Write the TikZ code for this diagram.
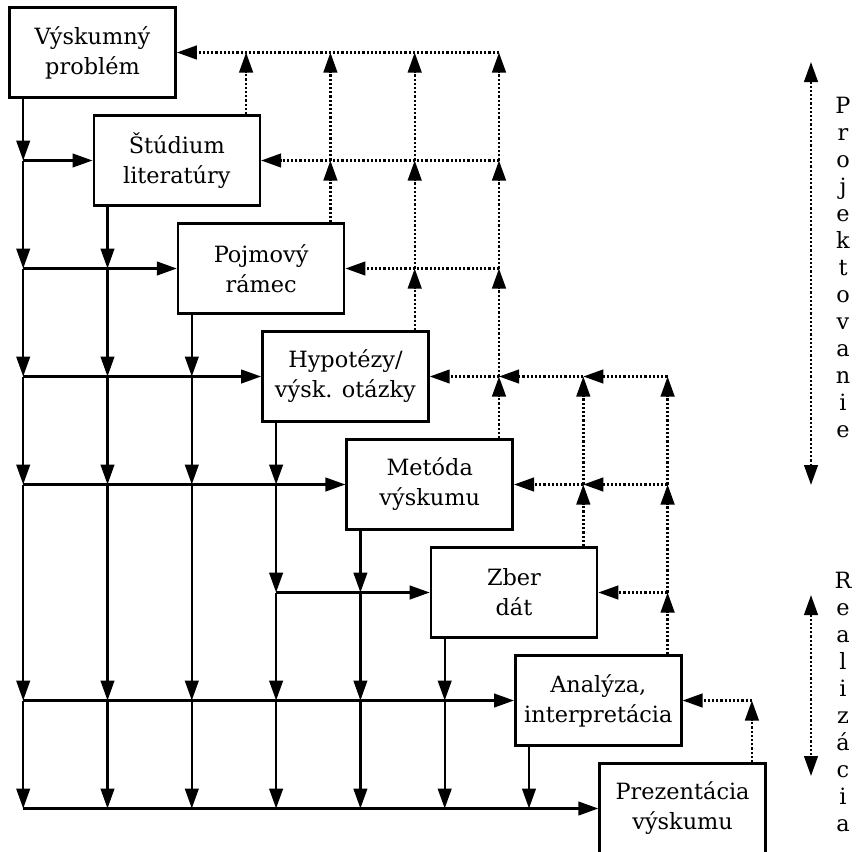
\documentclass[tikz,border=0pt]{standalone}
\usepackage{fontspec}
\setmainfont{DejaVu Serif}
\usetikzlibrary{arrows.meta,calc}

\begin{document}
\begin{tikzpicture}[x=0.5pt, y=-0.5pt,
    >={Triangle[length=10pt,width=6.8pt]},
    phase/.style={draw, line width=1.3pt, minimum width=83pt, minimum height=45pt,
      inner sep=0pt, align=center, font=\fontsize{11.2}{15}\selectfont},
    flow/.style={->, line width=1.2pt},
    back/.style={->, line width=1.2pt, dash pattern=on 1.1pt off 1pt},
    letters/.style={align=center, inner sep=0pt, font=\fontsize{11.2}{13.5}\selectfont}]
  \useasboundingbox (0,0) rectangle (856,851);

  \foreach \i/\txt in {1/{Výskumný\\problém}, 2/{Štúdium\\literatúry}, 3/{Pojmový\\rámec},
      4/{Hypotézy/\\výsk. otázky}, 5/{Metóda\\výskumu}, 6/{Zber\\dát},
      7/{Analýza,\\interpretácia}, 8/{Prezentácia\\výskumu}} {
    \node[phase] (b\i) at ({92.5+84.3*(\i-1)}, {52.5+108*(\i-1)}) {\txt};
    \coordinate (d\i) at ([xshift=7.5pt]b\i.south west);
    \coordinate (u\i) at ([xshift=-7.5pt]b\i.north east);
  }

  % solid lines: each step feeds all later steps
  \foreach \j/\rows in {1/{2,3,4,5,7,8}, 2/{3,4,5,7,8}, 3/{4,5,7,8}, 4/{5,6,7,8},
      5/{6,7,8}, 6/{7,8}, 7/{8}} {
    \coordinate (p) at (d\j);
    \foreach \k in \rows
      \draw[flow] (p) -- (d\j |- b\k.west) coordinate (p);
  }
  \foreach \k/\s in {2/1, 3/1, 4/1, 5/1, 6/4, 7/1, 8/1}
    \draw[flow] (d\s |- b\k.west) -- (b\k.west);

  % dotted lines: feedback to earlier steps
  \foreach \j/\rows in {2/{1}, 3/{2,1}, 4/{3,2,1}, 5/{4,3,2,1}, 6/{5,4}, 7/{6,5,4}, 8/{7}} {
    \coordinate (p) at (u\j);
    \foreach \k in \rows
      \draw[back] (p) -- (u\j |- b\k.east) coordinate (p);
  }
  \foreach \k/\cols in {1/{5}, 2/{5}, 3/{5}, 4/{5,6,7}, 5/{6,7}, 6/{7}, 7/{8}} {
    \coordinate (q) at (b\k.east);
    \foreach \c in \cols {
      \draw[back] (u\c |- b\k.east) -- (q);
      \coordinate (q) at (u\c |- b\k.east);
    }
  }

  \node[letters] (proj) at (843,267) {P\\r\\o\\j\\e\\k\\t\\o\\v\\a\\n\\i\\e};
  \node[letters] (real) at (843,702) {R\\e\\a\\l\\i\\z\\á\\c\\i\\a};
  \coordinate (projtop) at (811,62);
  \coordinate (projbot) at (811,485);
  \coordinate (realtop) at (811,595);
  \coordinate (realbot) at (811,776);
  \draw[back, <->] (projtop) -- (projbot);
  \draw[back, <->] (realtop) -- (realbot);
\end{tikzpicture}
\end{document}
